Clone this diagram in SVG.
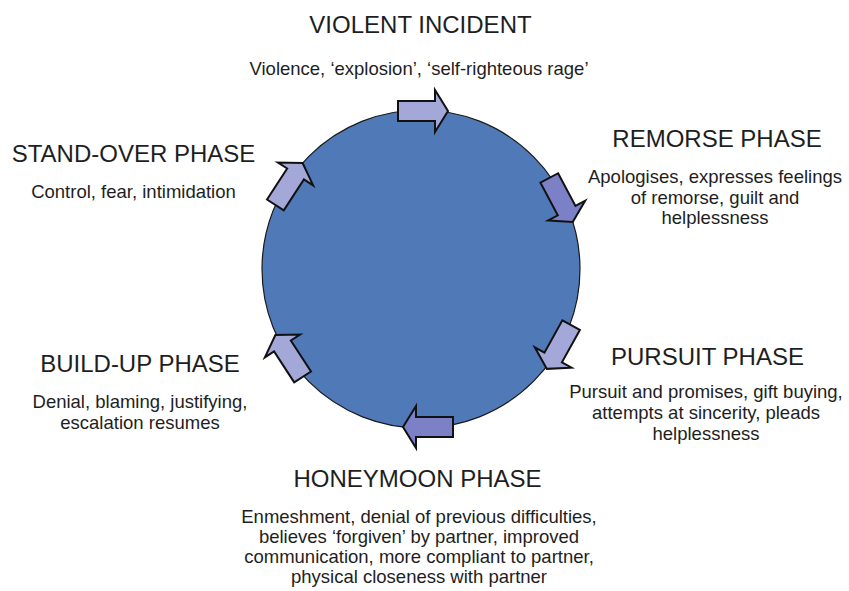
<svg xmlns="http://www.w3.org/2000/svg" width="849" height="591" viewBox="0 0 849 591">
<style>
.t{font-family:"Liberation Sans",Arial,sans-serif;font-size:24px;fill:#1e1e1e;text-anchor:middle}
.s{font-family:"Liberation Sans",Arial,sans-serif;font-size:18.5px;fill:#1e1e1e;text-anchor:middle}
.a{stroke:#111;stroke-width:2;stroke-linejoin:miter}
.l{fill:#A3A8D8}
.d{fill:#7C80C6}
</style>
<defs>
<path id="arr" d="M-25,-10 L12,-10 L12,-21 L25,0 L12,21 L12,10 L-25,10 Z"/>
</defs>
<rect width="849" height="591" fill="#ffffff"/>
<g id="cycle">
<circle cx="421" cy="269" r="159" fill="#4F79B7" stroke="#1a1a1a" stroke-width="1.2"/>
</g>
<g id="connectors">
<use href="#arr" class="a l" transform="translate(423,111)"/>
<use href="#arr" class="a d" transform="translate(561,200) rotate(62)"/>
<use href="#arr" class="a l" transform="translate(559,347) rotate(119)"/>
<use href="#arr" class="a d" transform="translate(428,427) rotate(180)"/>
<use href="#arr" class="a l" transform="translate(289,356) rotate(237)"/>
<use href="#arr" class="a l" transform="translate(289,184) rotate(-57)"/>
</g>
<g id="violent-incident">
<text class="t" x="420.5" y="33">VIOLENT INCIDENT</text>
<text class="s" x="419" y="75">Violence, ‘explosion’, ‘self-righteous rage’</text>
</g>
<g id="remorse-phase">
<text class="t" x="717" y="147">REMORSE PHASE</text>
<text class="s" x="715" y="183">Apologises, expresses feelings</text>
<text class="s" x="715" y="203.5">of remorse, guilt and</text>
<text class="s" x="715" y="224">helplessness</text>
</g>
<g id="pursuit-phase">
<text class="t" x="707.5" y="365">PURSUIT PHASE</text>
<text class="s" x="706" y="398">Pursuit and promises, gift buying,</text>
<text class="s" x="706" y="419">attempts at sincerity, pleads</text>
<text class="s" x="706" y="440">helplessness</text>
</g>
<g id="honeymoon-phase">
<text class="t" x="417.5" y="487">HONEYMOON PHASE</text>
<text class="s" x="419" y="523">Enmeshment, denial of previous difficulties,</text>
<text class="s" x="419" y="543">believes ‘forgiven’ by partner, improved</text>
<text class="s" x="419" y="563">communication, more compliant to partner,</text>
<text class="s" x="419" y="583">physical closeness with partner</text>
</g>
<g id="build-up-phase">
<text class="t" x="140" y="372">BUILD-UP PHASE</text>
<text class="s" x="140" y="408">Denial, blaming, justifying,</text>
<text class="s" x="140" y="429">escalation resumes</text>
</g>
<g id="stand-over-phase">
<text class="t" x="133.5" y="162">STAND-OVER PHASE</text>
<text class="s" x="133.5" y="198">Control, fear, intimidation</text>
</g>
</svg>
